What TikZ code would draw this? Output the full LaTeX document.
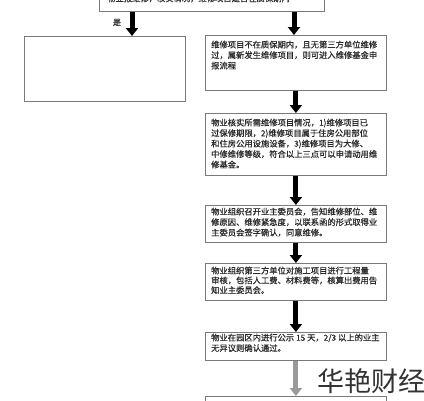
\documentclass[tikz,border=0pt]{standalone}
\usepackage{fontspec}
\setmainfont{Noto Sans CJK SC}
\newfontfamily\cjkb[FakeBold=0.6]{Noto Sans CJK SC}
\newfontfamily\wmfont{Noto Sans CJK SC}
\usetikzlibrary{arrows.meta}
\definecolor{boxline}{HTML}{7A7A7A}
\definecolor{txt}{HTML}{2A2A2A}
\definecolor{greyarrow}{HTML}{9A9A9A}
\tikzset{
  box/.style={draw=boxline, line width=0.8pt, fill=white, inner sep=0pt, anchor=north west},
  boxtext/.style={anchor=north west, inner sep=0pt, align=left, text=txt,
    font=\cjkb\fontsize{8.3}{10.5}\selectfont},
  bigarrow/.style={draw=black, line width=5pt, -{Triangle[width=12pt,length=8pt]}},
  greyarrowstyle/.style={draw=greyarrow, line width=5pt, -{Triangle[width=12pt,length=8pt,fill=greyarrow]}},
}
\begin{document}
\begin{tikzpicture}[x=1pt,y=-1pt]
\useasboundingbox (0,0) rectangle (424,400);
\clip (0,0) rectangle (424,400);
\fill[white] (0,0) rectangle (424,400);

% boxes
\node[box, minimum width=225pt, minimum height=36pt] (top) at (99,-25) {};
\node[box, minimum width=161pt, minimum height=65pt] (left) at (24,36) {};
\node[box, minimum width=181pt, minimum height=55pt] (b1) at (205,35) {};
\node[box, minimum width=181pt, minimum height=62pt] (b2) at (205,113) {};
\node[box, minimum width=181pt, minimum height=37pt] (b3) at (205,205) {};
\node[box, minimum width=181pt, minimum height=37pt] (b4) at (205,263) {};
\node[box, minimum width=181pt, minimum height=28pt] (b5) at (205,332) {};
\node[box, minimum width=181pt, minimum height=34pt] (b6) at (205,396) {};

% texts
\node[anchor=west, inner sep=0pt, text=txt, font=\cjkb\fontsize{8.3}{10.5}\selectfont] (toptext) at (107,-1.5)
  {物业报维修，核实情况，维修项目是否在质保期内};
\node[boxtext] (t1) at (211,40.5)
  {维修项目不在质保期内，且无第三方单位维修\\过，属新发生维修项目，则可进入维修基金申\\报流程};
\node[boxtext] (t2) at (211,118.5)
  {物业核实所需维修项目情况，1)维修项目已\\过保修期限，2)维修项目属于住房公用部位\\和住房公用设施设备，3)维修项目为大修、\\中修维修等级，符合以上三点可以申请动用维\\修基金。};
\node[boxtext] (t3) at (211,207.5)
  {物业组织召开业主委员会，告知维修部位、维\\修原因、维修紧急度，以联系函的形式取得业\\主委员会签字确认，同意维修。};
\node[boxtext, font=\cjkb\fontsize{8.3}{9.8}\selectfont] (t4) at (211,266.5)
  {物业组织第三方单位对施工项目进行工程量\\审核，包括人工费、材料费等，核算出费用告\\知业主委员会。};
\node[boxtext] (t5) at (211,333.5)
  {物业在园区内进行公示 15 天，2/3 以上的业主\\无异议则确认通过。};

% label
\node[inner sep=0pt, text=txt, font=\cjkb\fontsize{8}{9}\selectfont] (yes) at (117,22.5) {是};

% arrows
\coordinate (ax) at (132,0);
\coordinate (bx) at (294,0);
\draw[bigarrow] (top.south -| ax) -- (left.north -| ax);
\draw[bigarrow] (top.south -| bx) -- (b1.north -| bx);
\draw[bigarrow] (b1.south) -- (b2.north);
\draw[bigarrow] (b2.south) -- (b3.north);
\draw[bigarrow] (b3.south) -- (b4.north);
\draw[bigarrow] (b4.south) -- (b5.north);
\draw[greyarrowstyle] (b5.south) -- (b6.north);

% watermark
\node[anchor=west, inner sep=0pt, text=black!80, font=\wmfont\fontsize{27}{30}\selectfont] (wm) at (317,381) {华艳财经};
\end{tikzpicture}
\end{document}
